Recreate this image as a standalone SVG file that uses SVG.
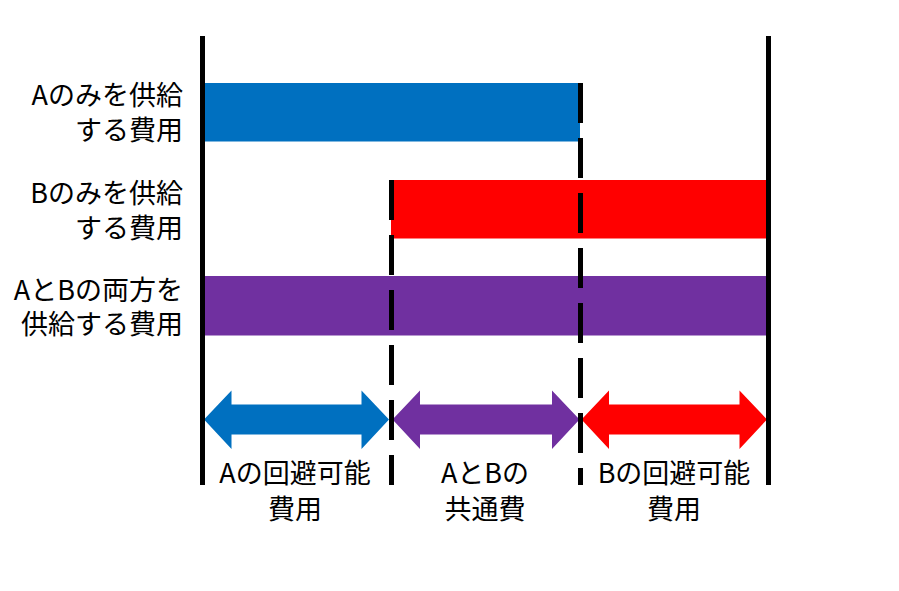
<svg xmlns="http://www.w3.org/2000/svg" width="899" height="591" viewBox="0 0 899 591">
<style>
text{font-family:"Meiryo","Noto Sans CJK JP","Noto Sans",sans-serif;font-size:27px;fill:#000}
.lbl{text-anchor:end}
.mid{text-anchor:middle}
.solid{stroke:#000;stroke-width:5;fill:none}
.dash{stroke:#000;stroke-width:5;fill:none;stroke-dasharray:40 15}
</style>
<rect width="899" height="591" fill="#fff"/>
<g id="bar-a">
<rect x="205" y="83" width="375" height="58.5" fill="#0070C0"/>
<text class="lbl" x="183" y="105">Aのみを供給</text>
<text class="lbl" x="183" y="140">する費用</text>
</g>
<g id="bar-b">
<rect x="391" y="180" width="375" height="58.5" fill="#FF0000"/>
<text class="lbl" x="183" y="203">Bのみを供給</text>
<text class="lbl" x="183" y="238">する費用</text>
</g>
<g id="bar-ab">
<rect x="205" y="276" width="561" height="59.5" fill="#7030A0"/>
<text class="lbl" x="183" y="300">AとBの両方を</text>
<text class="lbl" x="183" y="334">供給する費用</text>
</g>
<g id="span-a">
<polygon points="204,419.5 231.5,390.5 231.5,404.5 361.5,404.5 361.5,390.5 389,419.5 361.5,449 361.5,434.5 231.5,434.5 231.5,449" fill="#0070C0"/>
<text class="mid" x="295" y="483">Aの回避可能</text>
<text class="mid" x="295" y="519">費用</text>
</g>
<g id="span-common">
<polygon points="392.5,419.5 420,390.5 420,404.5 552,404.5 552,390.5 579.5,419.5 552,449 552,434.5 420,434.5 420,449" fill="#7030A0"/>
<text class="mid" x="485" y="483">AとBの</text>
<text class="mid" x="485" y="519">共通費</text>
</g>
<g id="span-b">
<polygon points="581.5,419.5 609,390.5 609,404.5 739.5,404.5 739.5,390.5 767,419.5 739.5,449 739.5,434.5 609,434.5 609,449" fill="#FF0000"/>
<text class="mid" x="674" y="483">Bの回避可能</text>
<text class="mid" x="674" y="519">費用</text>
</g>
<g id="connectors">
<line class="solid" x1="202.5" y1="36" x2="202.5" y2="485"/>
<line class="solid" x1="768.5" y1="36" x2="768.5" y2="485"/>
<line class="dash" x1="391.5" y1="180" x2="391.5" y2="485"/>
<line class="dash" x1="580.5" y1="83" x2="580.5" y2="485"/>
</g>
</svg>
